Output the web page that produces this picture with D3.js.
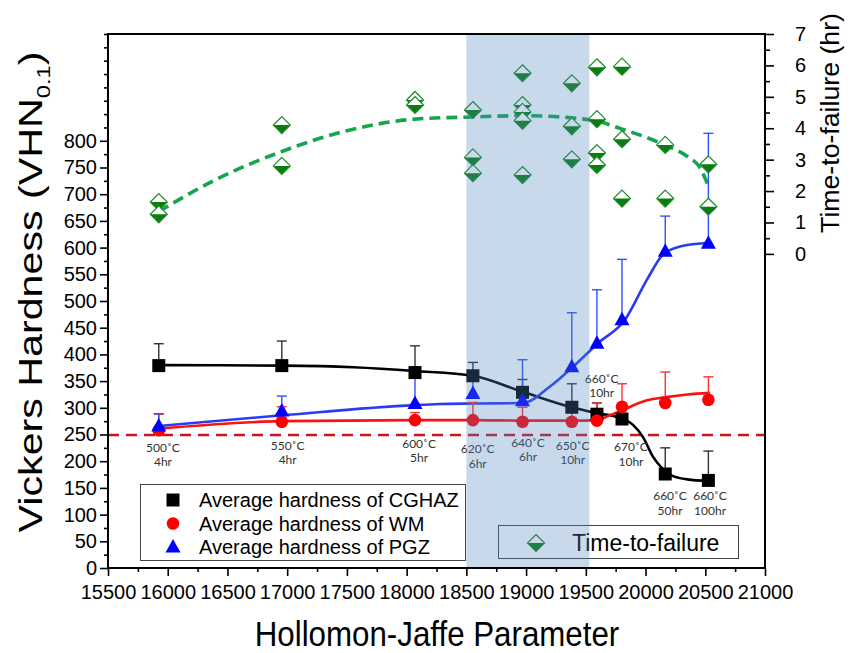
<!DOCTYPE html>
<html><head><meta charset="utf-8">
<script src="https://cdn.jsdelivr.net/npm/d3@7/dist/d3.min.js"></script>
<style>
body{margin:0;background:#fff}
svg{display:block}
text{font-family:"Liberation Sans",Arial,sans-serif}
</style>
</head><body>
<svg id="c" width="862" height="653"></svg>
<script>
// ---------- data ----------
const hjp      = [15925, 16955, 18070, 18555, 18970, 19383, 19593, 19803, 20165, 20526];
const cghaz    = [379, 379, 366, 360, 329, 301, 288, 279, 176, 164];
const cghazErr = [41, 46, 50, 25, 24, 44, 21, 20, 49, 55];
const wm       = [258, 274, 277, 277, 274, 274, 276, 302, 309, 315];
const wmErr    = [30, 28, 14, 33, 27, 18, 33, 43, 58, 43];
const pgz      = [266, 294, 308, 327, 313, 377, 421, 465, 593, 608];
const pgzErr   = [23, 28, 48, 30, 77, 101, 100, 113, 66, 206];

// fitted curves
const cghazFitX = [15925, 16955, 17554, 18070, 18555, 18970, 19383, 19593, 19803, 19895, 19979, 20063, 20138, 20220, 20350, 20526];
const cghazFit  = [380, 379, 376, 369, 360, 330, 301, 290, 280, 268, 245, 208, 187, 173, 166, 163];
const wmFitX = [15925, 16955, 18070, 18555, 18970, 19383, 19593, 19700, 19811, 20012, 20171, 20350, 20540];
const wmFit  = [261, 275, 277, 277, 276, 276, 277, 286, 296, 314, 320, 325, 328];
const pgzFitX = [15925, 16955, 18070, 18279, 18555, 18970, 19200, 19393, 19602, 19828, 20012, 20146, 20288, 20540];
const pgzFit  = [266, 286, 305, 307, 308, 309, 340, 377, 421, 465, 540, 587, 602, 609];

// time-to-failure (hr), right axis
const ttfX = [15925, 15925, 16955, 16955, 18070, 18070, 18555, 18555, 18555,
              18970, 18970, 18970, 18970, 18970, 19383, 19383, 19383,
              19593, 19593, 19593, 19593, 19803, 19803, 19803, 20165, 20165, 20526, 20526];
const ttf  = [1.65, 1.26, 4.10, 2.80, 4.90, 4.74, 4.58, 3.07, 2.57,
              5.75, 4.74, 4.52, 4.24, 2.51, 5.43, 4.06, 3.01,
              5.94, 4.29, 3.21, 2.83, 5.96, 3.65, 1.76, 3.47, 1.76, 2.85, 1.50];
const ttfFitX = [15925, 16400, 16955, 17500, 18070, 18555, 18970, 19383, 19600, 19803, 20000, 20165, 20347, 20456, 20526];
const ttfFit  = [1.35, 2.36, 3.26, 3.92, 4.29, 4.36, 4.40, 4.33, 4.22, 3.97, 3.72, 3.46, 3.11, 2.74, 2.16];

const limitVHN = 249;
const shadeRange = [18500, 19530];

const annoLine1 = ["500˚C","550˚C","600˚C","620˚C","640˚C","650˚C","660˚C","670˚C","660˚C","660˚C"];
const annoLine2 = ["4hr","4hr","5hr","6hr","6hr","10hr","10hr","10hr","50hr","100hr"];
const annoX     = [15960, 17004, 18104, 18595, 19016, 19390, 19633, 19878, 20205, 20540];
const annoY     = [218, 221, 225, 215, 227, 221, 347, 219, 127, 127];

const legendLabels = ["Average hardness of CGHAZ","Average hardness of WM","Average hardness of PGZ"];
const ttfLabel = "Time-to-failure";
const xTicks  = d3.range(15500, 21001, 500);
const yTicks  = d3.range(0, 801, 50);
const y2Ticks = d3.range(0, 8, 1);

// ---------- scales ----------
const svg = d3.select("#c");
const x  = d3.scaleLinear([15500, 21000], [108, 765]);
const y  = d3.scaleLinear([0, 1000], [568, 34]);
const y2 = d3.scaleLinear([-10, 7], [568, 34]);

// ---------- limit line ----------
svg.append("line")
  .attr("x1", x(15500)).attr("x2", x(21000))
  .attr("y1", y(limitVHN)).attr("y2", y(limitVHN))
  .attr("stroke", "#c8161d").attr("stroke-width", 2.6).attr("stroke-dasharray", "11,7");

// ---------- ttf fit ----------
svg.append("path")
  .datum(ttfFitX.map((v, i) => [v, ttfFit[i]]))
  .attr("d", d3.line().x(d => x(d[0])).y(d => y2(d[1])).curve(d3.curveMonotoneX))
  .attr("fill", "none").attr("stroke", "#14a64c").attr("stroke-width", 3.6)
  .attr("stroke-dasharray", "11,6");

// ---------- series ----------
const series = [
  {vals: cghaz, err: cghazErr, fx: cghazFitX, fy: cghazFit, fill: "#000", line: "#000", errc: "#333", shape: "square"},
  {vals: wm,    err: wmErr,    fx: wmFitX,    fy: wmFit,    fill: "#ff0000", line: "#ff1010", errc: "#ff3030", shape: "circle"},
  {vals: pgz,   err: pgzErr,   fx: pgzFitX,   fy: pgzFit,   fill: "#0000ff", line: "#2a3cf2", errc: "#3050ff", shape: "triangle"}
];
const fitLine = d3.line().x(d => x(d[0])).y(d => y(d[1])).curve(d3.curveMonotoneX);

series.forEach(s => {
  svg.append("path").datum(s.fx.map((v, i) => [v, s.fy[i]]))
    .attr("d", fitLine).attr("fill", "none").attr("stroke", s.line).attr("stroke-width", 2.6);
});
series.forEach(s => {
  const g = svg.append("g").attr("stroke", s.errc).attr("stroke-width", 1.4);
  hjp.forEach((h, i) => {
    const top = s.vals[i] + s.err[i];
    g.append("line").attr("x1", x(h)).attr("x2", x(h)).attr("y1", y(s.vals[i])).attr("y2", y(top));
    g.append("line").attr("x1", x(h) - 5).attr("x2", x(h) + 5).attr("y1", y(top)).attr("y2", y(top));
  });
});
function marker(g, shape, cx, cy, fill) {
  if (shape === "square") g.append("rect").attr("x", cx - 6.5).attr("y", cy - 6.5).attr("width", 13).attr("height", 13).attr("fill", fill);
  else if (shape === "circle") g.append("circle").attr("cx", cx).attr("cy", cy).attr("r", 6.3).attr("fill", fill);
  else g.append("path").attr("d", `M${cx},${cy - 8}L${cx + 7.5},${cy + 5.5}L${cx - 7.5},${cy + 5.5}Z`).attr("fill", fill);
}
series.forEach(s => {
  const g = svg.append("g");
  hjp.forEach((h, i) => marker(g, s.shape, x(h), y(s.vals[i]), s.fill));
});

// ---------- diamonds ----------
function diamond(g, cx, cy) {
  const r = 8.5;
  g.append("path").attr("d", `M${cx},${cy - r}L${cx + r},${cy}L${cx - r},${cy}Z`).attr("fill", "#fff");
  g.append("path").attr("d", `M${cx - r},${cy}L${cx + r},${cy}L${cx},${cy + r}Z`).attr("fill", "#0b7c12");
  g.append("path").attr("d", `M${cx},${cy - r}L${cx + r},${cy}L${cx},${cy + r}L${cx - r},${cy}Z`)
    .attr("fill", "none").attr("stroke", "#1b8a22").attr("stroke-width", 1.2);
}
const dg = svg.append("g");
ttfX.forEach((h, i) => diamond(dg, x(h), y2(ttf[i])));

// ---------- annotations ----------
const ag = svg.append("g").attr("font-size", 12).attr("fill", "#333").attr("text-anchor", "middle");
annoX.forEach((h, i) => {
  ag.append("text").attr("x", x(h)).attr("y", y(annoY[i]))
    .style("font-family", "Lato, 'Noto Sans', sans-serif").text(annoLine1[i]);
  ag.append("text").attr("x", x(h)).attr("y", y(annoY[i]) + 14.5)
    .style("font-family", "Lato, 'Noto Sans', sans-serif").text(annoLine2[i]);
});

// ---------- legends ----------
const lg = svg.append("g");
lg.append("rect").attr("x", 140.5).attr("y", 484.5).attr("width", 325).attr("height", 76)
  .attr("fill", "#fff").attr("stroke", "#444").attr("stroke-width", 1);
legendLabels.forEach((lab, i) => {
  const cy = 500 + i * 23.5;
  marker(lg, series[i].shape, 173, cy, series[i].fill);
  lg.append("text").attr("x", 199).attr("y", cy + 7).attr("font-size", 20).attr("fill", "#000").text(lab);
});
lg.append("rect").attr("x", 498.5).attr("y", 525.5).attr("width", 240).attr("height", 33)
  .attr("fill", "#fff").attr("stroke", "#444").attr("stroke-width", 1);
diamond(lg, 536, 543);
lg.append("text").attr("x", 572).attr("y", 551).attr("font-size", 23).attr("fill", "#000").text(ttfLabel);

// ---------- shaded band (on top, translucent) ----------
svg.append("rect")
  .attr("x", x(shadeRange[0])).attr("y", y(1000))
  .attr("width", x(shadeRange[1]) - x(shadeRange[0])).attr("height", y(0) - y(1000))
  .attr("fill", "#4e83c1").attr("fill-opacity", 0.31);

// ---------- axes ----------
function styleAxis(g, fs) {
  g.select(".domain").remove();
  g.selectAll(".tick line").attr("stroke", "#000").attr("stroke-width", 1.6);
  g.selectAll(".tick text").attr("font-size", fs).attr("fill", "#000")
    .style("font-family", "'Liberation Sans', Arial, sans-serif");
}
const minorY = d3.range(0, 1001, 25).filter(v => !(v % 50 === 0 && v <= 800));
styleAxis(svg.append("g").attr("transform", "translate(108,0)")
  .call(d3.axisLeft(y).tickValues(yTicks).tickSize(8).tickPadding(3).tickSizeOuter(0)), 20);
styleAxis(svg.append("g").attr("transform", "translate(108,0)")
  .call(d3.axisLeft(y).tickValues(minorY).tickSize(4).tickFormat("").tickSizeOuter(0)), 20);

styleAxis(svg.append("g").attr("transform", "translate(0,568)")
  .call(d3.axisBottom(x).tickValues(xTicks).tickSize(8).tickPadding(9).tickFormat(d3.format("d")).tickSizeOuter(0)), 20);
styleAxis(svg.append("g").attr("transform", "translate(0,568)")
  .call(d3.axisBottom(x).tickValues(d3.range(15750, 21000, 500)).tickSize(4).tickFormat("").tickSizeOuter(0)), 20);

styleAxis(svg.append("g").attr("transform", "translate(765,0)")
  .call(d3.axisRight(y2).tickValues(y2Ticks).tickSize(9).tickPadding(21).tickSizeOuter(0)), 20);
styleAxis(svg.append("g").attr("transform", "translate(765,0)")
  .call(d3.axisRight(y2).tickValues(d3.range(0.5, 7, 1)).tickSize(5).tickFormat("").tickSizeOuter(0)), 20);

svg.append("rect").attr("x", 108).attr("y", 34).attr("width", 657).attr("height", 534)
  .attr("fill", "none").attr("stroke", "#000").attr("stroke-width", 2);

// ---------- titles ----------
const yt = svg.append("text").attr("font-size", 33).attr("text-anchor", "middle").attr("fill", "#000");
yt.append("tspan").text("Vickers Hardness (VHN");
yt.append("tspan").attr("font-size", 19).attr("dy", 8).text("0.1");
yt.append("tspan").attr("dy", -8).text(")");
const ytw = yt.node().getBBox().width;
yt.attr("transform", `translate(42,292) rotate(-90) scale(${481 / ytw},1)`);

const xt = svg.append("text").attr("font-size", 35).attr("text-anchor", "middle").attr("fill", "#000")
  .text("Hollomon-Jaffe Parameter");
const xtw = xt.node().getBBox().width;
xt.attr("transform", `translate(437,646) scale(${365 / xtw},1)`);

const rt = svg.append("text").attr("font-size", 26).attr("text-anchor", "middle").attr("fill", "#000")
  .text("Time-to-failure (hr)");
const rtw = rt.node().getBBox().width;
rt.attr("transform", `translate(839,123) rotate(-90) scale(${220 / rtw},1)`);
</script>
</body></html>
